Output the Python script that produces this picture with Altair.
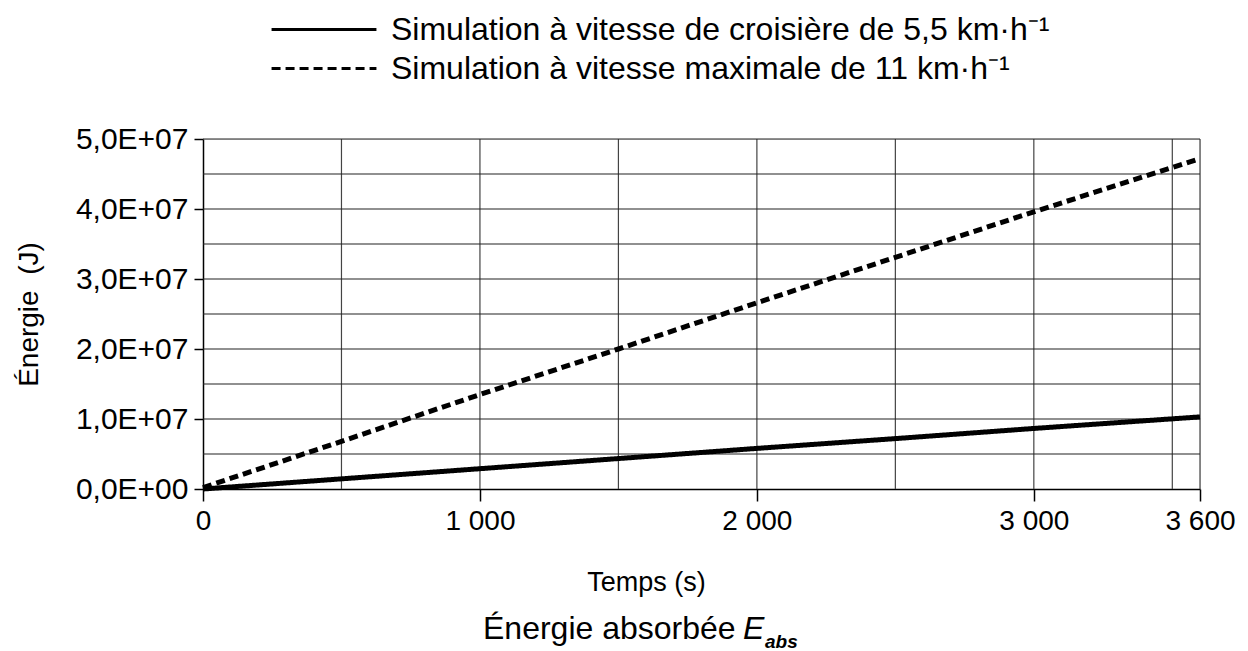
import altair as alt
import pandas as pd

# Data
temps = [0, 500, 1000, 1500, 2000, 2500, 3000, 3600]
energie_croisiere = [0, 1.45e6, 2.9e6, 4.35e6, 5.8e6, 7.2e6, 8.65e6, 10.3e6]
energie_max = [0.2e6, 6.8e6, 13.5e6, 20.0e6, 26.6e6, 33.1e6, 39.6e6, 47.2e6]
series_names = [
    "Simulation à vitesse de croisière de 5,5 km·h⁻¹",
    "Simulation à vitesse maximale de 11 km·h⁻¹",
]
x_tick_values = [0, 1000, 2000, 3000, 3600]
x_grid_values = [500, 1000, 1500, 2000, 2500, 3000, 3500, 3600]
y_tick_values = [0, 1e7, 2e7, 3e7, 4e7, 5e7]
y_grid_values = [5e6, 1e7, 1.5e7, 2e7, 2.5e7, 3e7, 3.5e7, 4e7, 4.5e7, 5e7]

rows = []
for t, v in zip(temps, energie_croisiere):
    rows.append({"t": t, "E": v, "serie": series_names[0]})
for t, v in zip(temps, energie_max):
    rows.append({"t": t, "E": v, "serie": series_names[1]})
df = pd.DataFrame(rows)

FONT = "Liberation Sans"

xscale = alt.Scale(domain=[0, 3600], nice=False, zero=False)
yscale = alt.Scale(domain=[0, 5e7], nice=False)

vgrid = alt.Chart(pd.DataFrame({"t": x_grid_values})).mark_rule(
    color="#444444", strokeWidth=1.2
).encode(x=alt.X("t:Q", scale=xscale))

hgrid = alt.Chart(pd.DataFrame({"E": y_grid_values})).mark_rule(
    color="#222222", strokeWidth=1.2
).encode(y=alt.Y("E:Q", scale=yscale))

lines = alt.Chart(df).mark_line(strokeWidth=5, color="black").encode(
    x=alt.X(
        "t:Q",
        scale=xscale,
        axis=alt.Axis(
            values=x_tick_values,
            grid=False,
            title="Temps (s)",
            labelExpr="replace(format(datum.value, ',d'), ',', ' ')",
            labelFontSize=28,
            titleFontSize=27,
            labelFont=FONT,
            titleFont=FONT,
            titleFontWeight="normal",
            labelColor="black",
            titleColor="black",
            domainColor="black",
            tickColor="black",
            tickSize=12,
            tickWidth=1.5,
            domainWidth=1.5,
            labelPadding=6,
            titlePadding=34,
            titleX=443,
            titleAlign="center",
            labelFlush=False,
        ),
    ),
    y=alt.Y(
        "E:Q",
        scale=yscale,
        axis=alt.Axis(
            values=y_tick_values,
            grid=False,
            title="Énergie\u00a0 (J)",
            labelExpr="replace(replace(format(datum.value, '.1e'), '.', ','), 'e+', 'E+0')",
            labelFontSize=30,
            titleFontSize=28,
            labelFont=FONT,
            titleFont=FONT,
            titleFontWeight="normal",
            labelColor="black",
            titleColor="black",
            domainColor="black",
            tickColor="black",
            tickSize=9,
            tickWidth=1.5,
            domainWidth=1.5,
            labelPadding=6,
            titlePadding=32,
        ),
    ),
    strokeDash=alt.StrokeDash(
        "serie:N",
        scale=alt.Scale(domain=series_names, range=[[1, 0], [9, 5]]),
        legend=alt.Legend(
            title=None,
            orient="none",
            legendX=67,
            legendY=-125,
            direction="vertical",
            symbolType="stroke",
            symbolSize=11000,
            symbolStrokeWidth=3,
            symbolStrokeColor="black",
            labelFont=FONT,
            labelFontSize=32,
            labelColor="black",
            labelLimit=1000,
            clipHeight=31,
            rowPadding=6,
            labelOffset=13,
            padding=0,
        ),
    ),
)

label_df = alt.Data(values=[{"a": 1}])
title_main = alt.Chart(label_df).mark_text(
    text="Énergie absorbée", align="left", baseline="alphabetic",
    font=FONT, fontSize=32, color="black"
).encode(x=alt.value(280), y=alt.value(500))
title_E = alt.Chart(label_df).mark_text(
    text="E", align="left", baseline="alphabetic",
    font=FONT, fontSize=32, fontStyle="italic", color="black"
).encode(x=alt.value(540), y=alt.value(500))
title_abs = alt.Chart(label_df).mark_text(
    text="abs", align="left", baseline="alphabetic",
    font=FONT, fontSize=19, fontStyle="italic", fontWeight="bold", color="black"
).encode(x=alt.value(562), y=alt.value(509))

chart = alt.layer(vgrid, hgrid, lines, title_main, title_E, title_abs).properties(
    width=997,
    height=350,
    autosize=alt.AutoSizeParams(type="none"),
    padding={"left": 195, "top": 131, "right": 40, "bottom": 162},
).configure_view(stroke=None).configure(background="white")

chart.save("out.html", embed_options={"renderer": "svg", "actions": False})
